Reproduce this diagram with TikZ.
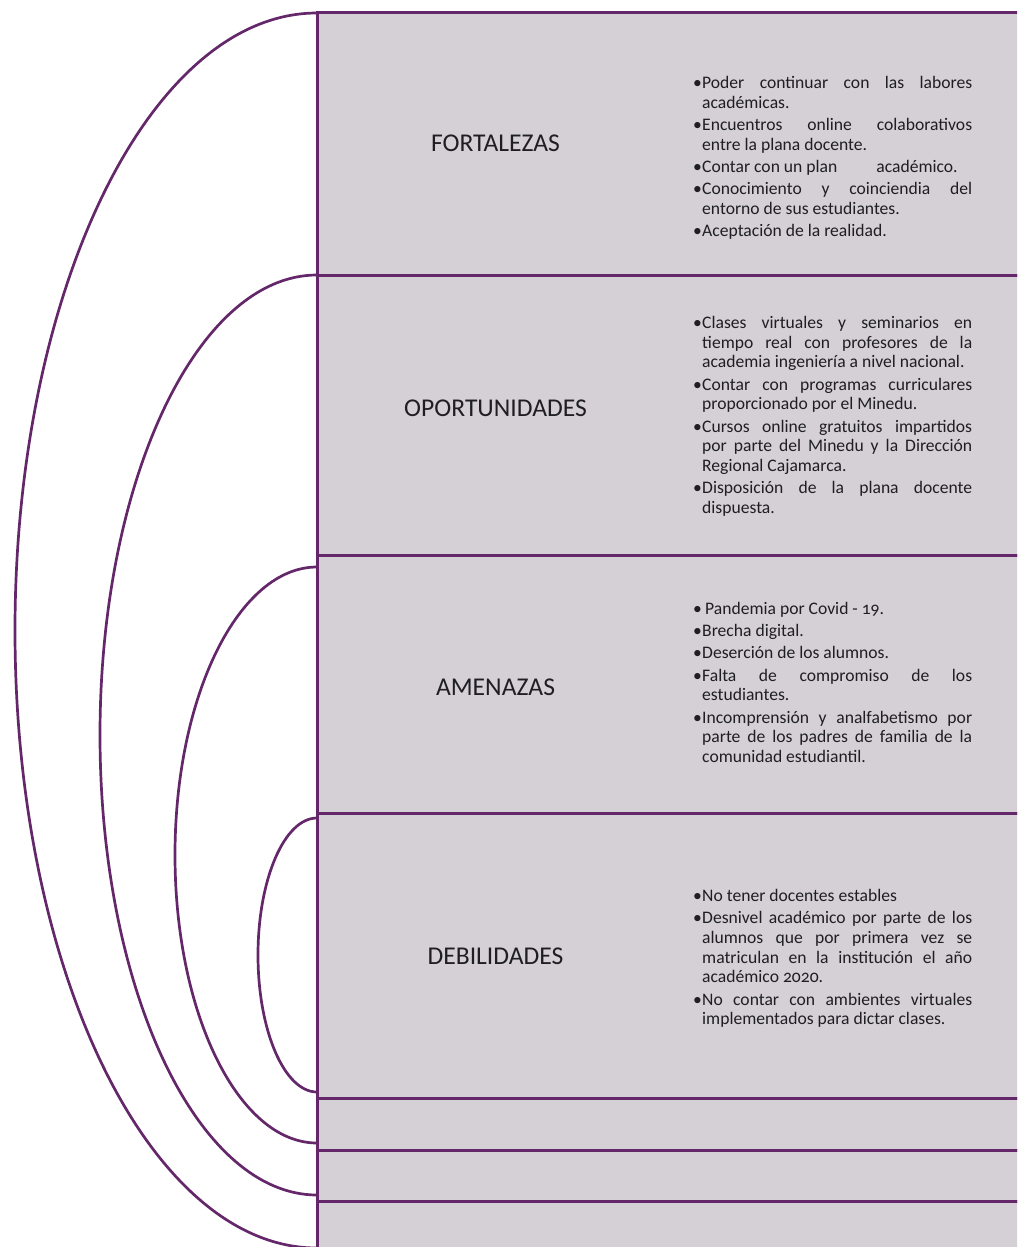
\documentclass[tikz,border=0pt]{standalone}
\usepackage{fontspec}
\setmainfont{Carlito}[Numbers=OldStyle]
\definecolor{plum}{RGB}{100,40,106}
\definecolor{bandfill}{RGB}{213,207,214}
\definecolor{ink}{RGB}{30,30,36}
\newcommand{\itm}[1]{\noindent\hangindent=9pt\hangafter=1\makebox[9pt][l]{\strut\textbullet}#1\par}
\tikzset{
  band/.style={draw=plum, line width=3pt, fill=bandfill, anchor=north west, minimum width=740pt, inner sep=0pt, outer sep=0pt},
  titlelab/.style={text=ink, inner sep=0pt, font=\fontsize{25.6}{29}\selectfont},
  blist/.style={text=ink, anchor=north west, text width=279pt, inner sep=0pt, align=justify, font=\fontsize{17.6}{19.7}\selectfont},
  ring/.style={draw=plum, line width=2.7pt},
}
\begin{document}
\begin{tikzpicture}[x=1pt,y=1pt]
\useasboundingbox (0,0) rectangle (1017,-1247);
\clip (0,0) rectangle (1017,-1247);
% bands
\node[band, minimum height=262pt] (fort) at (317,-13) {};
\node[band, minimum height=280pt] (opor) at (317,-275) {};
\node[band, minimum height=258pt] (amen) at (317,-555) {};
\node[band, minimum height=285pt] (debi) at (317,-813) {};
\node[band, minimum height=52pt] (e1) at (317,-1098) {};
\node[band, minimum height=51pt] (e2) at (317,-1150) {};
\node[band, minimum height=70pt] (e3) at (317,-1201) {};
% rings
\draw[ring] (fort.north west) arc[start angle=90, end angle=270, x radius=302, y radius=617.5];
\draw[ring] (opor.north west) arc[start angle=90, end angle=270, x radius=217, y radius=460];
\draw[ring] ([yshift=-12pt]amen.north west) arc[start angle=90, end angle=270, x radius=142, y radius=288];
\draw[ring] ([yshift=-5pt]debi.north west) arc[start angle=90, end angle=270, x radius=59, y radius=137];
% titles
\node[titlelab] (tfort) at (495.5,-143) {FORTALEZAS};
\node[titlelab] (topor) at (495.5,-408) {OPORTUNIDADES};
\node[titlelab] (tamen) at (495.5,-687) {AMENAZAS};
\node[titlelab] (tdebi) at (495.5,-956) {DEBILIDADES};
% lists
\node[blist] (lfort) at (693,-74.6) {\setlength{\parskip}{2.5pt}\hyphenpenalty=10000\tolerance=9999
\itm{Poder continuar con las labores\linebreak académicas.}
\itm{Encuentros online colaborativos\linebreak entre la plana docente.}
\itm{Contar con un plan\hspace{39pt}académico.}
\itm{Conocimiento y coinciendia del\linebreak entorno de sus estudiantes.}
\itm{Aceptación de la realidad.}};
\node[blist] (lopor) at (693,-314.6) {\setlength{\parskip}{2.5pt}\hyphenpenalty=10000\tolerance=9999
\itm{Clases virtuales y seminarios en\linebreak tiempo real con profesores de la\linebreak academia ingeniería a nivel nacional.}
\itm{Contar con programas curriculares\linebreak proporcionado por el Minedu.}
\itm{Cursos online gratuitos impartidos\linebreak por parte del Minedu y la Dirección\linebreak Regional Cajamarca.}
\itm{Disposición de la plana docente\linebreak dispuesta.}};
\node[blist] (lamen) at (693,-600.6) {\setlength{\parskip}{2.5pt}\hyphenpenalty=10000\tolerance=9999
\itm{\,Pandemia por Covid - 19.}
\itm{Brecha digital.}
\itm{Deserción de los alumnos.}
\itm{Falta de compromiso de los\linebreak estudiantes.}
\itm{Incomprensión y analfabetismo por\linebreak parte de los padres de familia de la\linebreak comunidad estudiantil.}};
\node[blist] (ldebi) at (693,-887.6) {\setlength{\parskip}{2.5pt}\hyphenpenalty=10000\tolerance=9999
\itm{No tener docentes estables}
\itm{Desnivel académico por parte de los\linebreak alumnos que por primera vez se\linebreak matriculan en la institución el año\linebreak académico 2020.}
\itm{No contar con ambientes virtuales\linebreak implementados para dictar clases.}};
\end{tikzpicture}
\end{document}
